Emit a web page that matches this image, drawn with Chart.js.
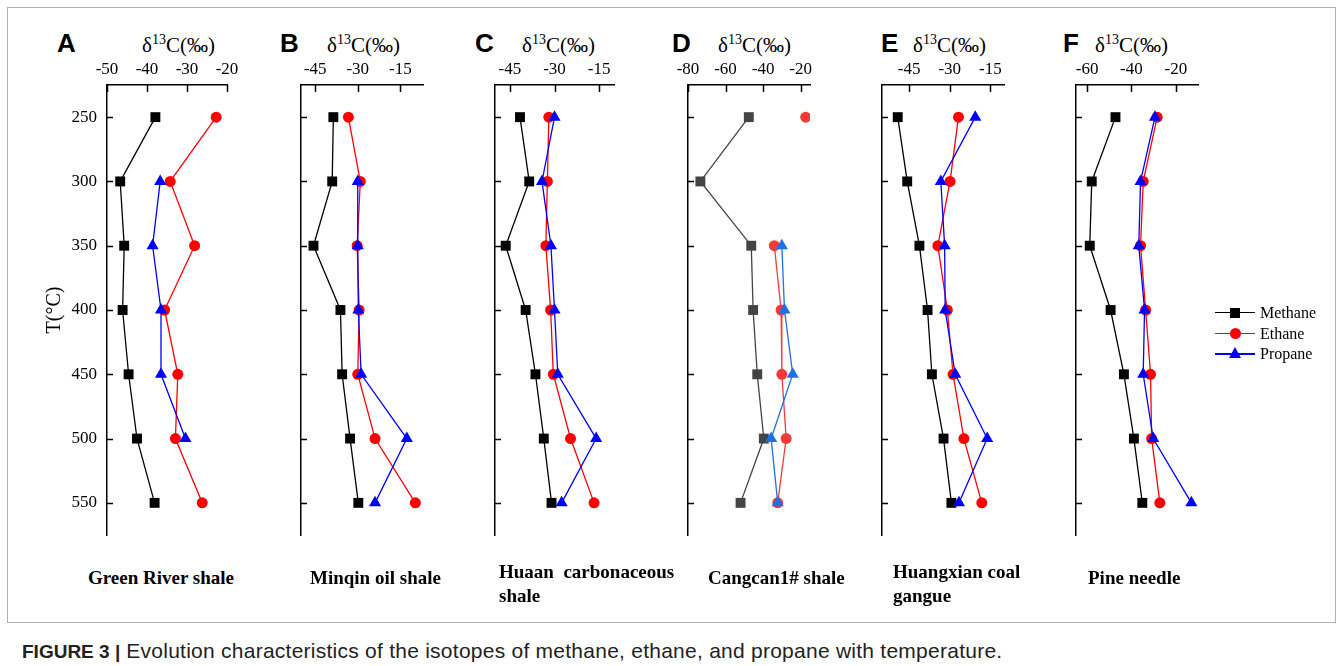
<!DOCTYPE html>
<html>
<head>
<meta charset="utf-8">
<script src="https://cdn.jsdelivr.net/npm/chart.js@4.4.1/dist/chart.umd.min.js"></script>
<style>
body { margin:0; background:#fff; width:1342px; height:666px; overflow:hidden; position:relative; font-family:'Liberation Serif', 'Times New Roman', serif; color:#000; }
.frame { position:absolute; left:7px; top:7px; width:1329px; height:616px; border:1px solid #b0b0b0; box-sizing:border-box; }
.panel { position:absolute; }
.letter { position:absolute; top:30px; font:bold 26px 'Liberation Sans', Arial, sans-serif; line-height:1; }
.xtitle { position:absolute; top:35px; font-size:21px; line-height:1; white-space:nowrap; }
.xtitle span { position:relative; top:-8px; font-size:14px; }
.sample { position:absolute; font-weight:bold; font-size:19px; line-height:24px; white-space:nowrap; }
.legend { position:absolute; left:1215px; top:302px; font-size:16px; }
.legend .row { position:relative; height:20.7px; width:120px; }
.legend .ln { position:absolute; left:0; top:10px; width:40px; height:1.4px; }
.legend .tx { position:absolute; left:45px; top:0; line-height:21px; }
.caption { position:absolute; left:22px; top:639px; font:21px 'Liberation Sans', Arial, sans-serif; letter-spacing:0.25px; color:#222; white-space:nowrap; }
.caption b { font-size:19px; letter-spacing:0; }
</style>
</head>
<body>
<div class="frame"></div>

<div class="letter" style="left:57px">A</div>
<div class="letter" style="left:280px">B</div>
<div class="letter" style="left:475px">C</div>
<div class="letter" style="left:672px">D</div>
<div class="letter" style="left:881px">E</div>
<div class="letter" style="left:1063px">F</div>

<div class="xtitle" style="left:142px">&delta;<span>13</span>C(&permil;)</div>
<div class="xtitle" style="left:327px">&delta;<span>13</span>C(&permil;)</div>
<div class="xtitle" style="left:522px">&delta;<span>13</span>C(&permil;)</div>
<div class="xtitle" style="left:718px">&delta;<span>13</span>C(&permil;)</div>
<div class="xtitle" style="left:913px">&delta;<span>13</span>C(&permil;)</div>
<div class="xtitle" style="left:1095px">&delta;<span>13</span>C(&permil;)</div>

<canvas id="cA" class="panel"></canvas>
<canvas id="cB" class="panel"></canvas>
<canvas id="cC" class="panel"></canvas>
<canvas id="cD" class="panel"></canvas>
<canvas id="cE" class="panel"></canvas>
<canvas id="cF" class="panel"></canvas>

<div class="sample" style="left:88px; top:566px">Green River shale</div>
<div class="sample" style="left:310px; top:566px">Minqin oil shale</div>
<div class="sample" style="left:499px; top:560px">Huaan&nbsp; carbonaceous<br>shale</div>
<div class="sample" style="left:708px; top:566px">Cangcan1# shale</div>
<div class="sample" style="left:893px; top:560px">Huangxian coal<br>gangue</div>
<div class="sample" style="left:1088px; top:566px">Pine needle</div>

<div class="legend">
  <div class="row"><div class="ln" style="background:#000"></div>
    <div style="position:absolute; left:15px; top:5.5px; width:10px; height:10px; background:#000"></div>
    <div class="tx">Methane</div></div>
  <div class="row"><div class="ln" style="background:#f00"></div>
    <div style="position:absolute; left:14.5px; top:5px; width:11px; height:11px; border-radius:50%; background:#f00"></div>
    <div class="tx">Ethane</div></div>
  <div class="row"><div class="ln" style="background:#00f"></div>
    <div style="position:absolute; left:14px; top:4px; width:0; height:0; border-left:6px solid transparent; border-right:6px solid transparent; border-bottom:11px solid #00f"></div>
    <div class="tx">Propane</div></div>
</div>

<div class="caption"><b>FIGURE 3 |</b> Evolution characteristics of the isotopes of methane, ethane, and propane with temperature.</div>

<script>
// temperatures (°C), shared by all panels
var temps = [250, 300, 350, 400, 450, 500, 550];
var tempTicks = [250, 300, 350, 400, 450, 500, 550];

// delta13C (per mil)
var greenRiverMethane = [-37.9, -46.7, -45.7, -46.1, -44.6, -42.5, -38.1];
var greenRiverEthane  = [-22.7, -34.2, -28.1, -35.6, -32.3, -32.9, -26.2];
var greenRiverPropane = [null, -36.7, -38.6, -36.5, -36.5, -30.4, null];
var greenRiverTicks   = [-50, -40, -30, -20];

var minqinMethane = [-38.6, -39.0, -45.6, -36.1, -35.5, -32.7, -29.8];
var minqinEthane  = [-33.3, -29.1, -30.2, -29.5, -30.0, -23.9, -9.7];
var minqinPropane = [null, -30.0, -30.0, -29.8, -28.8, -12.7, -23.9];
var minqinTicks   = [-45, -30, -15];

var huaanMethane = [-41.6, -38.5, -46.4, -39.7, -36.4, -33.6, -31.0];
var huaanEthane  = [-31.9, -32.4, -32.9, -31.3, -30.4, -24.6, -16.7];
var huaanPropane = [-30.0, -34.2, -31.2, -30.0, -28.9, -16.0, -27.6];
var huaanTicks   = [-45, -30, -15];

var cangcanMethane = [-47.6, -73.4, -46.3, -45.3, -43.1, -39.6, -52.0];
var cangcanEthane  = [-17.3, null, -34.0, -30.4, -30.0, -27.7, -32.2];
var cangcanPropane = [null, null, -30.0, -28.6, -24.2, -35.7, -32.2];
var cangcanTicks   = [-80, -60, -40, -20];

var huangxianMethane = [-49.2, -45.7, -41.2, -38.2, -36.6, -32.3, -29.4];
var huangxianEthane  = [-26.8, -29.9, -34.4, -30.9, -28.8, -24.8, -18.2];
var huangxianPropane = [-20.6, -33.3, -31.9, -31.7, -28.0, -16.2, -26.6];
var huangxianTicks   = [-45, -30, -15];

var pineMethane = [-47.2, -57.9, -58.8, -49.4, -43.4, -38.9, -35.1];
var pineEthane  = [-28.4, -34.7, -35.9, -33.6, -31.4, -30.9, -27.2];
var pinePropane = [-29.4, -35.9, -36.7, -34.1, -34.7, -30.2, -13.0];
var pineTicks   = [-60, -40, -20];

var TOP = 85, BOTTOM = 535, XH = 30, PADR = 20, PADB = 30;

// inner tick marks on the top and left axes
var innerTicks = {
  id: 'innerTicks',
  afterDraw: function(chart) {
    var ctx = chart.ctx, area = chart.chartArea;
    var xs = chart.scales.x, ys = chart.scales.y;
    ctx.save();
    ctx.strokeStyle = '#000';
    ctx.lineWidth = 1.5;
    ctx.beginPath();
    xs.ticks.forEach(function(t) {
      var px = Math.round(xs.getPixelForValue(t.value)) + 0.5;
      ctx.moveTo(px, area.top);
      ctx.lineTo(px, area.top + 7);
    });
    ys.ticks.forEach(function(t) {
      var py = Math.round(ys.getPixelForValue(t.value)) + 0.5;
      ctx.moveTo(area.left, py);
      ctx.lineTo(area.left + 6, py);
    });
    ctx.stroke();
    ctx.restore();
  }
};

function pts(vals) {
  return temps.map(function(t, i) { return {x: vals[i], y: t}; });
}

function series(label, vals, color, style, radius, order) {
  return {
    label: label,
    data: pts(vals),
    showLine: true,
    borderColor: color,
    backgroundColor: color,
    borderWidth: 1.3,
    pointStyle: style,
    pointRadius: radius,
    pointHoverRadius: radius,
    pointBorderWidth: 0,
    pointBackgroundColor: color,
    spanGaps: false,
    order: order
  };
}

function panel(id, left, right, min, max, ticks, m, e, p, cols, showY) {
  var yw = showY ? 68 : 40;
  var cv = document.getElementById(id);
  var w = yw + (right - left) + PADR;
  var h = XH + (BOTTOM - TOP) + PADB;
  cv.width = w; cv.height = h;
  cv.style.left = (left - yw) + 'px';
  cv.style.top = (TOP - XH) + 'px';
  cv.style.width = w + 'px';
  cv.style.height = h + 'px';

  new Chart(cv, {
    type: 'scatter',
    data: {
      datasets: [
        series('Methane', m, cols[0], 'rect', 7, 3),
        series('Ethane', e, cols[1], 'circle', 5.5, 2),
        series('Propane', p, cols[2], 'triangle', 7, 1)
      ]
    },
    options: {
      responsive: false,
      animation: false,
      devicePixelRatio: 1,
      layout: { padding: { left: 0, top: 0, right: PADR, bottom: PADB } },
      plugins: { legend: { display: false }, tooltip: { enabled: false } },
      scales: {
        x: {
          type: 'linear',
          position: 'top',
          min: min,
          max: max,
          afterBuildTicks: function(s) { s.ticks = ticks.map(function(v) { return {value: v}; }); },
          afterFit: function(s) { s.height = XH; },
          grid: { display: false, drawTicks: false },
          border: { display: true, color: '#000', width: 1.5 },
          ticks: { color: '#000', padding: 5, maxRotation: 0, font: { family: 'Liberation Serif', size: 17 } }
        },
        y: {
          type: 'linear',
          position: 'left',
          reverse: true,
          min: 225,
          max: 575,
          afterBuildTicks: function(s) { s.ticks = tempTicks.map(function(v) { return {value: v}; }); },
          afterFit: function(s) { s.width = yw; },
          grid: { display: false, drawTicks: false },
          border: { display: true, color: '#000', width: 1.5 },
          title: { display: showY, text: 'T(°C)', color: '#000', font: { family: 'Liberation Serif', size: 20 } },
          ticks: { display: showY, color: '#000', padding: 10, font: { family: 'Liberation Serif', size: 17 } }
        }
      }
    },
    plugins: [innerTicks]
  });
}

var std = ['#000000', '#ff0000', '#0000ff'];
var soft = ['#444444', '#f23b3b', '#1f6fe6'];

panel('cA', 107, 227, -50, -20, greenRiverTicks, greenRiverMethane, greenRiverEthane, greenRiverPropane, std, true);
panel('cB', 301, 423, -50, -7, minqinTicks, minqinMethane, minqinEthane, minqinPropane, std, false);
panel('cC', 495, 614, -50, -10, huaanTicks, huaanMethane, huaanEthane, huaanPropane, std, false);
panel('cD', 688, 810, -80, -15, cangcanTicks, cangcanMethane, cangcanEthane, cangcanPropane, soft, false);
panel('cE', 882, 1004, -55, -10, huangxianTicks, huangxianMethane, huangxianEthane, huangxianPropane, std, false);
panel('cF', 1076, 1198, -65, -10, pineTicks, pineMethane, pineEthane, pinePropane, std, false);
</script>
</body>
</html>
